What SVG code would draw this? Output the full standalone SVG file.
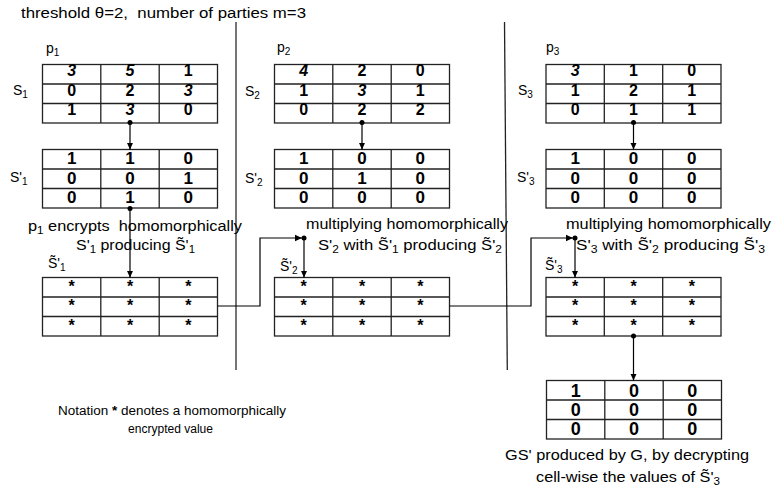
<svg xmlns="http://www.w3.org/2000/svg" xmlns:xlink="http://www.w3.org/1999/xlink" width="775" height="491" viewBox="0 0 775 491">
<style>
text{font-family:"Liberation Sans",Arial,sans-serif;fill:#000}
.lb{font-size:14px}
.sm{font-size:12px}
.sub{font-size:10px}
.d{font-size:16px;font-weight:bold;text-anchor:middle}
.d2{font-size:17px;font-weight:bold;text-anchor:middle}
.d3{font-size:18px;font-weight:bold;text-anchor:middle}
.i{font-style:italic}
.grid{fill:none;stroke:#222;stroke-width:1.3}
.conn{fill:none;stroke:#000;stroke-width:1.2}
.div1{stroke:#666;stroke-width:1.8}
.div2{stroke:#222;stroke-width:1.3}
</style>
<defs>
<g id="grid" class="grid">
<rect x="0" y="0" width="175" height="58.5"/>
<path d="M58.3,0V58.5M116.7,0V58.5M0,19.5H175M0,39H175"/>
</g>
<marker id="arr" markerWidth="8" markerHeight="8" refX="7" refY="4" orient="auto" markerUnits="userSpaceOnUse">
<path d="M0,0.8L7,4L0,7.2z" fill="#000"/>
</marker>
<marker id="dot" markerWidth="6" markerHeight="6" refX="3" refY="3" orient="auto" markerUnits="userSpaceOnUse">
<circle cx="3" cy="3" r="2.5" fill="#000"/>
</marker>
</defs>

<text class="lb" x="21" y="18" xml:space="preserve" textLength="285" lengthAdjust="spacingAndGlyphs">threshold θ=2,  number of parties m=3</text>

<line class="div1" x1="236" y1="22" x2="236" y2="370"/>
<line class="div2" x1="504.5" y1="22" x2="507.3" y2="370"/>

<!-- party 1 -->
<g id="S1">
<text class="lb" x="46" y="53">p<tspan class="sub" dy="3">1</tspan></text>
<text class="lb" x="13" y="95">S<tspan class="sub" dy="3">1</tspan></text>
<use xlink:href="#grid" x="42.5" y="64.5"/>
<text class="d i" x="71.7" y="76">3</text><text class="d i" x="130" y="76">5</text><text class="d" x="188.3" y="76">1</text>
<text class="d" x="71.7" y="95.5">0</text><text class="d" x="130" y="95.5">2</text><text class="d i" x="188.3" y="95.5">3</text>
<text class="d" x="71.7" y="115">1</text><text class="d i" x="130" y="115">3</text><text class="d" x="188.3" y="115">0</text>
</g>
<g id="S1p">
<text class="lb" x="10" y="182">S'<tspan class="sub" dy="3">1</tspan></text>
<use xlink:href="#grid" x="42.5" y="149.5"/>
<text class="d2" x="71.7" y="164">1</text><text class="d2" x="130" y="164">1</text><text class="d2" x="188.3" y="164">0</text>
<text class="d2" x="71.7" y="183.5">0</text><text class="d2" x="130" y="183.5">0</text><text class="d2" x="188.3" y="183.5">1</text>
<text class="d2" x="71.7" y="203">0</text><text class="d2" x="130" y="203">1</text><text class="d2" x="188.3" y="203">0</text>
</g>
<g id="enc1">
<text class="lb" x="28" y="231" xml:space="preserve" textLength="214" lengthAdjust="spacingAndGlyphs">p<tspan class="sub" dy="3">1</tspan><tspan dy="-3"> encrypts  homomorphically</tspan></text>
<text class="lb" x="76" y="250" textLength="119" lengthAdjust="spacingAndGlyphs">S'<tspan class="sub" dy="3">1</tspan><tspan dy="-3"> producing S̃'</tspan><tspan class="sub" dy="3">1</tspan></text>
</g>
<g id="S1t">
<text class="lb" x="48" y="268">S̃'<tspan class="sub" dy="3">1</tspan></text>
<use xlink:href="#grid" x="42.5" y="277.5"/>
<text class="d" x="71.7" y="291.5">*</text><text class="d" x="130" y="291.5">*</text><text class="d" x="188.3" y="291.5">*</text>
<text class="d" x="71.7" y="311">*</text><text class="d" x="130" y="311">*</text><text class="d" x="188.3" y="311">*</text>
<text class="d" x="71.7" y="330.5">*</text><text class="d" x="130" y="330.5">*</text><text class="d" x="188.3" y="330.5">*</text>
</g>

<!-- party 2 -->
<g id="S2">
<text class="lb" x="277" y="52">p<tspan class="sub" dy="3">2</tspan></text>
<text class="lb" x="245" y="96">S<tspan class="sub" dy="3">2</tspan></text>
<use xlink:href="#grid" x="274.5" y="64.5"/>
<text class="d i" x="303.7" y="76">4</text><text class="d" x="362" y="76">2</text><text class="d" x="420.3" y="76">0</text>
<text class="d" x="303.7" y="95.5">1</text><text class="d i" x="362" y="95.5">3</text><text class="d" x="420.3" y="95.5">1</text>
<text class="d" x="303.7" y="115">0</text><text class="d" x="362" y="115">2</text><text class="d" x="420.3" y="115">2</text>
</g>
<g id="S2p">
<text class="lb" x="245" y="183">S'<tspan class="sub" dy="3">2</tspan></text>
<use xlink:href="#grid" x="274.5" y="149.5"/>
<text class="d2" x="303.7" y="164">1</text><text class="d2" x="362" y="164">0</text><text class="d2" x="420.3" y="164">0</text>
<text class="d2" x="303.7" y="183.5">0</text><text class="d2" x="362" y="183.5">1</text><text class="d2" x="420.3" y="183.5">0</text>
<text class="d2" x="303.7" y="203">0</text><text class="d2" x="362" y="203">0</text><text class="d2" x="420.3" y="203">0</text>
</g>
<g id="mul2">
<text class="lb" x="306" y="229" textLength="202" lengthAdjust="spacingAndGlyphs">multiplying homomorphically</text>
<text class="lb" x="318" y="250" textLength="184" lengthAdjust="spacingAndGlyphs">S'<tspan class="sub" dy="3">2</tspan><tspan dy="-3"> with S̃'</tspan><tspan class="sub" dy="3">1</tspan><tspan dy="-3"> producing S̃'</tspan><tspan class="sub" dy="3">2</tspan></text>
</g>
<g id="S2t">
<text class="lb" x="280" y="271">S̃'<tspan class="sub" dy="3">2</tspan></text>
<use xlink:href="#grid" x="274.5" y="277.5"/>
<text class="d" x="303.7" y="291.5">*</text><text class="d" x="362" y="291.5">*</text><text class="d" x="420.3" y="291.5">*</text>
<text class="d" x="303.7" y="311">*</text><text class="d" x="362" y="311">*</text><text class="d" x="420.3" y="311">*</text>
<text class="d" x="303.7" y="330.5">*</text><text class="d" x="362" y="330.5">*</text><text class="d" x="420.3" y="330.5">*</text>
</g>

<!-- party 3 -->
<g id="S3">
<text class="lb" x="546" y="52">p<tspan class="sub" dy="3">3</tspan></text>
<text class="lb" x="518" y="95">S<tspan class="sub" dy="3">3</tspan></text>
<use xlink:href="#grid" x="546" y="64.5"/>
<text class="d i" x="575.2" y="76">3</text><text class="d" x="633.5" y="76">1</text><text class="d" x="691.8" y="76">0</text>
<text class="d" x="575.2" y="95.5">1</text><text class="d" x="633.5" y="95.5">2</text><text class="d" x="691.8" y="95.5">1</text>
<text class="d" x="575.2" y="115">0</text><text class="d" x="633.5" y="115">1</text><text class="d" x="691.8" y="115">1</text>
</g>
<g id="S3p">
<text class="lb" x="517" y="182">S'<tspan class="sub" dy="3">3</tspan></text>
<use xlink:href="#grid" x="546" y="149.5"/>
<text class="d2" x="575.2" y="164">1</text><text class="d2" x="633.5" y="164">0</text><text class="d2" x="691.8" y="164">0</text>
<text class="d2" x="575.2" y="183.5">0</text><text class="d2" x="633.5" y="183.5">0</text><text class="d2" x="691.8" y="183.5">0</text>
<text class="d2" x="575.2" y="203">0</text><text class="d2" x="633.5" y="203">0</text><text class="d2" x="691.8" y="203">0</text>
</g>
<g id="mul3">
<text class="lb" x="566" y="229" textLength="205" lengthAdjust="spacingAndGlyphs">multiplying homomorphically</text>
<text class="lb" x="576" y="250" textLength="189" lengthAdjust="spacingAndGlyphs">S'<tspan class="sub" dy="3">3</tspan><tspan dy="-3"> with S̃'</tspan><tspan class="sub" dy="3">2</tspan><tspan dy="-3"> producing S̃'</tspan><tspan class="sub" dy="3">3</tspan></text>
</g>
<g id="S3t">
<text class="lb" x="545" y="270">S̃'<tspan class="sub" dy="3">3</tspan></text>
<use xlink:href="#grid" x="546" y="277.5"/>
<text class="d" x="575.2" y="291.5">*</text><text class="d" x="633.5" y="291.5">*</text><text class="d" x="691.8" y="291.5">*</text>
<text class="d" x="575.2" y="311">*</text><text class="d" x="633.5" y="311">*</text><text class="d" x="691.8" y="311">*</text>
<text class="d" x="575.2" y="330.5">*</text><text class="d" x="633.5" y="330.5">*</text><text class="d" x="691.8" y="330.5">*</text>
</g>
<g id="GS">
<use xlink:href="#grid" x="546.5" y="380.5"/>
<text class="d3" x="575.7" y="396.5">1</text><text class="d3" x="634" y="396.5">0</text><text class="d3" x="692.3" y="396.5">0</text>
<text class="d3" x="575.7" y="416">0</text><text class="d3" x="634" y="416">0</text><text class="d3" x="692.3" y="416">0</text>
<text class="d3" x="575.7" y="435">0</text><text class="d3" x="634" y="435">0</text><text class="d3" x="692.3" y="435">0</text>
<text class="lb" x="505" y="460" textLength="244" lengthAdjust="spacingAndGlyphs">GS' produced by G, by decrypting</text>
<text class="lb" x="536" y="482" textLength="184" lengthAdjust="spacingAndGlyphs">cell-wise the values of S̃'<tspan class="sub" dy="3">3</tspan></text>
</g>

<g id="notation">
<text class="sm" x="58" y="415" textLength="228" lengthAdjust="spacingAndGlyphs">Notation <tspan font-weight="bold">*</tspan> denotes a homomorphically</text>
<text class="sm" x="128" y="433" textLength="85" lengthAdjust="spacingAndGlyphs">encrypted value</text>
</g>

<g id="connectors" class="conn">
<path d="M130,122.5V149.5" marker-start="url(#dot)" marker-end="url(#arr)"/>
<path d="M362,122.5V149.5" marker-start="url(#dot)" marker-end="url(#arr)"/>
<path d="M633.5,122.5V149.5" marker-start="url(#dot)" marker-end="url(#arr)"/>
<path d="M130,208.5V277.5" marker-start="url(#dot)" marker-end="url(#arr)"/>
<path d="M217.5,306H260V238H302" marker-end="url(#arr)"/>
<path d="M304,238V277.5" marker-start="url(#dot)" marker-end="url(#arr)"/>
<path d="M449.5,306H531V238H573" marker-end="url(#arr)"/>
<path d="M575,238V277.5" marker-start="url(#dot)" marker-end="url(#arr)"/>
<path d="M633.5,336V380.5" marker-start="url(#dot)" marker-end="url(#arr)"/>
</g>
</svg>
